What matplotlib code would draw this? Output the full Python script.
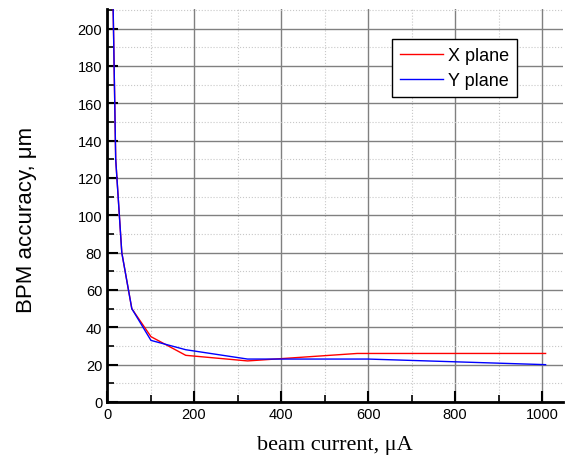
import matplotlib
matplotlib.use("Agg")
import matplotlib.pyplot as plt
from matplotlib.ticker import MultipleLocator

x_red = [12, 20, 34, 57, 101, 181, 323, 575, 1008]
y_red = [240, 130, 80, 50, 35, 25, 22, 26, 26]
x_blue = [12, 20, 34, 57, 101, 181, 323, 600, 1008]
y_blue = [240, 130, 80, 50, 33, 28, 23, 23, 20]

fig = plt.figure(figsize=(5.68, 4.60), dpi=100)
ax = fig.add_axes([107/568, 1-403/460, (563-107)/568, (403-10)/460])

ax.plot(x_red, y_red, color='#ff0000', lw=1.0, label='X plane', zorder=3)
ax.plot(x_blue, y_blue, color='#0000ff', lw=1.0, label='Y plane', zorder=3)

ax.set_xlim(0, 1048)
ax.set_ylim(0, 210.5)
ax.xaxis.set_major_locator(MultipleLocator(200))
ax.xaxis.set_minor_locator(MultipleLocator(100))
ax.yaxis.set_major_locator(MultipleLocator(20))
ax.yaxis.set_minor_locator(MultipleLocator(10))
ax.grid(True, which='major', color='#808080', lw=1.0, ls='-')
ax.grid(True, which='minor', color='#c8c8c8', lw=0.8, ls=':')
ax.set_axisbelow(True)

for s in ['top', 'right']:
    ax.spines[s].set_visible(False)
for s in ['left', 'bottom']:
    ax.spines[s].set_linewidth(2)
ax.tick_params(which='major', direction='in', length=8, width=1.5, labelsize=10.5)
ax.tick_params(which='minor', direction='in', length=5, width=1.2)
for lab in ax.get_xticklabels() + ax.get_yticklabels():
    lab.set_family('Liberation Sans')

ax.set_ylabel('BPM accuracy, μm', family='Liberation Sans', fontsize=16)
ax.yaxis.set_label_coords(-0.154, 0.466)
ax.set_xlabel('beam current, μA', family='Liberation Serif', fontsize=16, labelpad=10)

leg = ax.legend(loc='upper right', bbox_to_anchor=(0.899, 0.924), borderaxespad=0,
                prop={'family': 'Liberation Sans', 'size': 13},
                fancybox=False, edgecolor='black', framealpha=1, handlelength=2.4,
                borderpad=0.45, labelspacing=0.45, handletextpad=0.25)
leg.get_frame().set_linewidth(1.0)

fig.savefig('out.png', dpi=100)
